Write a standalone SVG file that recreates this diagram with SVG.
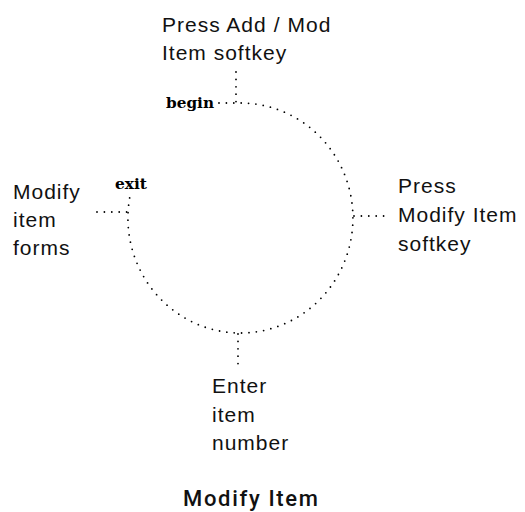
<svg xmlns="http://www.w3.org/2000/svg" width="525" height="512" viewBox="0 0 525 512">
  <style>
    .lbl { font-family: "Liberation Sans", Arial, sans-serif; font-size: 21px; letter-spacing: 1px; fill: #111; }
    .mark { font-family: "DejaVu Serif", "Liberation Serif", serif; font-size: 14px; font-weight: bold; fill: #000; }
    .title { font-family: Roboto, "Liberation Sans", sans-serif; font-size: 22px; font-weight: 500; fill: #111; }
    .dots { fill: none; stroke: #000; stroke-width: 1.8; stroke-linecap: round; stroke-dasharray: 0 7.4; }
  </style>
  <rect width="525" height="512" fill="#fff"/>

  <!-- dotted cycle and the leaders to each step -->
  <g id="connectors" class="dots">
    <path d="M219 103 L241 103 A112.5 115 0 1 1 130 196"/>
    <path d="M236 72 L236 103"/>
    <path d="M354 216 L384 216"/>
    <path d="M238 334 L238 364"/>
    <path d="M97 212 L129 212"/>
  </g>

  <g id="begin">
    <text class="mark" x="166" y="108" textLength="48" lengthAdjust="spacingAndGlyphs">begin</text>
  </g>
  <g id="exit">
    <text class="mark" x="115" y="189" textLength="32" lengthAdjust="spacingAndGlyphs">exit</text>
  </g>

  <g id="step-add-mod">
    <text class="lbl" x="162" y="32">Press Add<tspan dx="7">/</tspan><tspan dx="7">Mod</tspan></text>
    <text class="lbl" x="162" y="60">Item softkey</text>
  </g>

  <g id="step-modify-key">
    <text class="lbl" x="398" y="193">Press</text>
    <text class="lbl" x="398" y="222">Modify Item</text>
    <text class="lbl" x="398" y="251">softkey</text>
  </g>

  <g id="step-item-number">
    <text class="lbl" x="212" y="393">Enter</text>
    <text class="lbl" x="212" y="422">item</text>
    <text class="lbl" x="212" y="450">number</text>
  </g>

  <g id="step-forms">
    <text class="lbl" x="13" y="199">Modify</text>
    <text class="lbl" x="13" y="227">item</text>
    <text class="lbl" x="13" y="255">forms</text>
  </g>

  <g id="caption">
    <text class="title" x="183" y="506" textLength="135" lengthAdjust="spacing">Modify Item</text>
  </g>
</svg>
